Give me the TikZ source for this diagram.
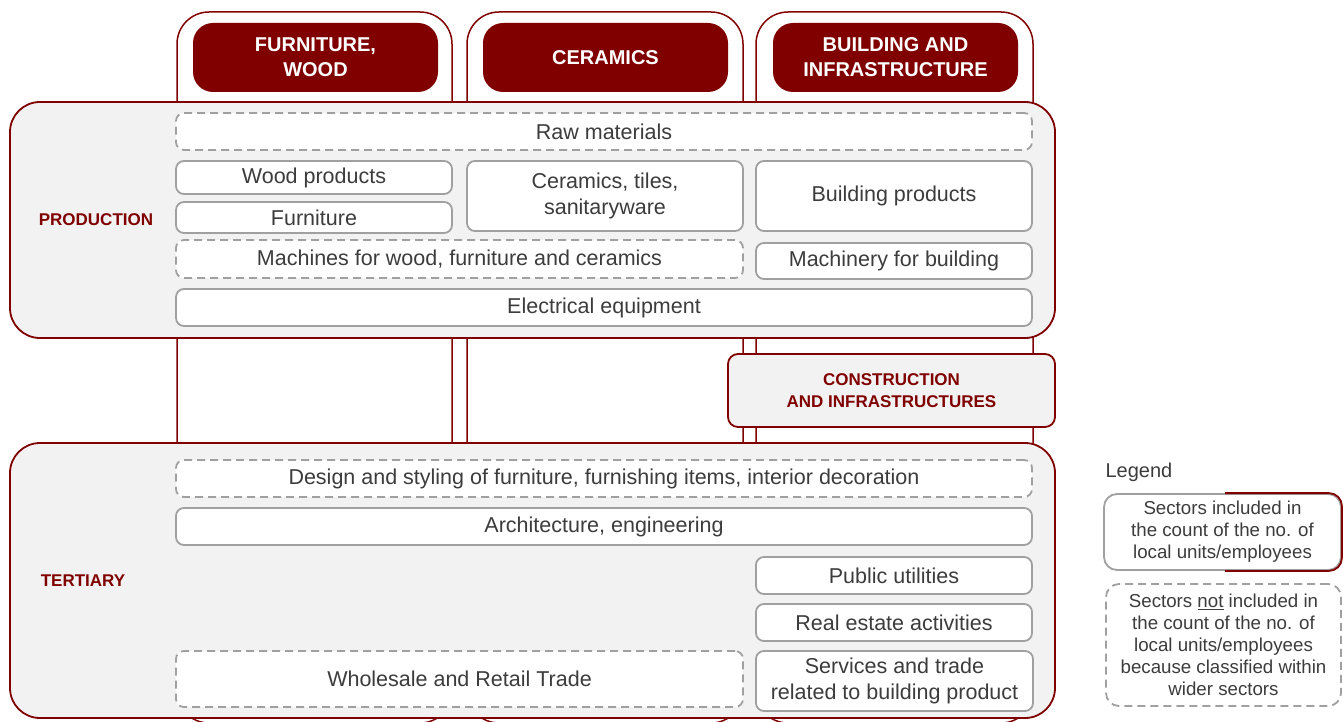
\documentclass[tikz,border=0pt]{standalone}
\usepackage{fontspec}
\setmainfont{Liberation Sans}

\definecolor{darkred}{HTML}{800000}
\definecolor{panelgray}{HTML}{F2F2F2}
\definecolor{boxgray}{HTML}{A0A0A0}
\definecolor{textgray}{HTML}{3C3C3C}

\tikzset{
    column/.style={draw=darkred, line width=1.5pt, fill=white, rounded corners=32pt, inner sep=0pt},
    header/.style={fill=darkred, rounded corners=20pt, text=white, inner sep=0pt,
        font=\fontsize{20}{25}\selectfont\bfseries, align=center},
    panel/.style={draw=darkred, line width=1.8pt, fill=panelgray, rounded corners=30pt, inner sep=0pt},
    ibox/.style={draw=boxgray, line width=1.8pt, fill=white, rounded corners=8pt, inner sep=0pt,
        text=textgray, font=\fontsize{21.5}{26}\selectfont, align=center},
    dbox/.style={ibox, dash pattern=on 8pt off 5pt},
    seclabel/.style={text=darkred, font=\fontsize{17}{22}\selectfont\bfseries, align=center},
    legendbox/.style={ibox, rounded corners=13pt, font=\fontsize{18.7}{22}\selectfont},
}

\begin{document}
\begin{tikzpicture}[x=1pt,y=-1pt]
    \useasboundingbox (0,0) rectangle (1343,722);

    % columns
    \node[column, minimum width=275pt, minimum height=711pt] (colwood) at (314.5,367.5) {};
    \node[column, minimum width=276pt, minimum height=711pt] (colcer) at (605,367.5) {};
    \node[column, minimum width=277pt, minimum height=711pt] (colbuild) at (894.5,367.5) {};

    \node[header, minimum width=245pt, minimum height=69pt] (hwood) at (315.5,57.5) {FURNITURE,\\WOOD};
    \node[header, minimum width=245pt, minimum height=69pt] (hcer) at (605.5,57.5) {CERAMICS};
    \node[header, minimum width=245pt, minimum height=69pt] (hbuild) at (895.5,57.5) {BUILDING AND\\INFRASTRUCTURE};

    % panels
    \node[panel, minimum width=1045pt, minimum height=236pt] (prod) at (532.5,220) {};
    \node[panel, minimum width=1045pt, minimum height=275pt] (tert) at (532.5,580.5) {};
    \node[panel, rounded corners=10pt, minimum width=327pt, minimum height=73pt, seclabel] (constr) at (891.5,390.5)
        {CONSTRUCTION\\AND INFRASTRUCTURES};

    \node[seclabel] (lprod) at (96,220) {PRODUCTION};
    \node[seclabel] (ltert) at (83,581) {TERTIARY};

    % production sectors
    \node[dbox, minimum width=856pt, minimum height=37pt] (raw) at (604,131.5) {Raw materials};
    \node[ibox, minimum width=276pt, minimum height=33pt] (woodp) at (314,177.5) {Wood products};
    \node[ibox, minimum width=276pt, minimum height=31pt] (furn) at (314,217.5) {Furniture};
    \node[ibox, minimum width=276pt, minimum height=70pt] (cerp) at (605,196) {Ceramics, tiles,\\sanitaryware};
    \node[ibox, minimum width=276pt, minimum height=70pt] (buildp) at (894,196) {Building products};
    \node[dbox, minimum width=567pt, minimum height=38pt] (mach) at (459.5,259) {Machines for wood, furniture and ceramics};
    \node[ibox, minimum width=276pt, minimum height=36pt] (machb) at (894,261) {Machinery for building};
    \node[ibox, minimum width=856pt, minimum height=37pt] (elec) at (604,307.5) {Electrical equipment};

    % tertiary sectors
    \node[dbox, minimum width=856pt, minimum height=37pt] (design) at (604,478.5)
        {Design and styling of furniture, furnishing items, interior decoration};
    \node[ibox, minimum width=856pt, minimum height=37pt] (arch) at (604,526.5) {Architecture, engineering};
    \node[ibox, minimum width=276pt, minimum height=37pt] (util) at (894,575.5) {Public utilities};
    \node[ibox, minimum width=276pt, minimum height=37pt] (estate) at (894,622.5) {Real estate activities};
    \node[dbox, minimum width=567pt, minimum height=56pt] (trade) at (459.5,679) {Wholesale and Retail Trade};
    \node[ibox, minimum width=277pt, minimum height=60pt] (serv) at (894.5,681)
        {Services and trade\\related to building product};

    % legend
    \node[anchor=west, text=textgray, font=\fontsize{20}{24}\selectfont] (legtitle) at (1102,472) {Legend};
    \node[legendbox, minimum width=237pt, minimum height=76pt] (legin) at (1222.5,532)
        {Sectors included in\\the count of the no. of\\local units/employees};
    \begin{scope}
        \clip (1225,480) rectangle (1350,590);
        \draw[darkred, line width=1.8pt, rounded corners=13pt] (legin.north west) rectangle (legin.south east);
    \end{scope}
    \node[legendbox, dash pattern=on 8pt off 5pt, minimum width=235pt, minimum height=122pt] (legout) at (1223.5,645)
        {Sectors \underline{not} included in\\the count of the no. of\\local units/employees\\because classified within\\wider sectors};
\end{tikzpicture}
\end{document}
